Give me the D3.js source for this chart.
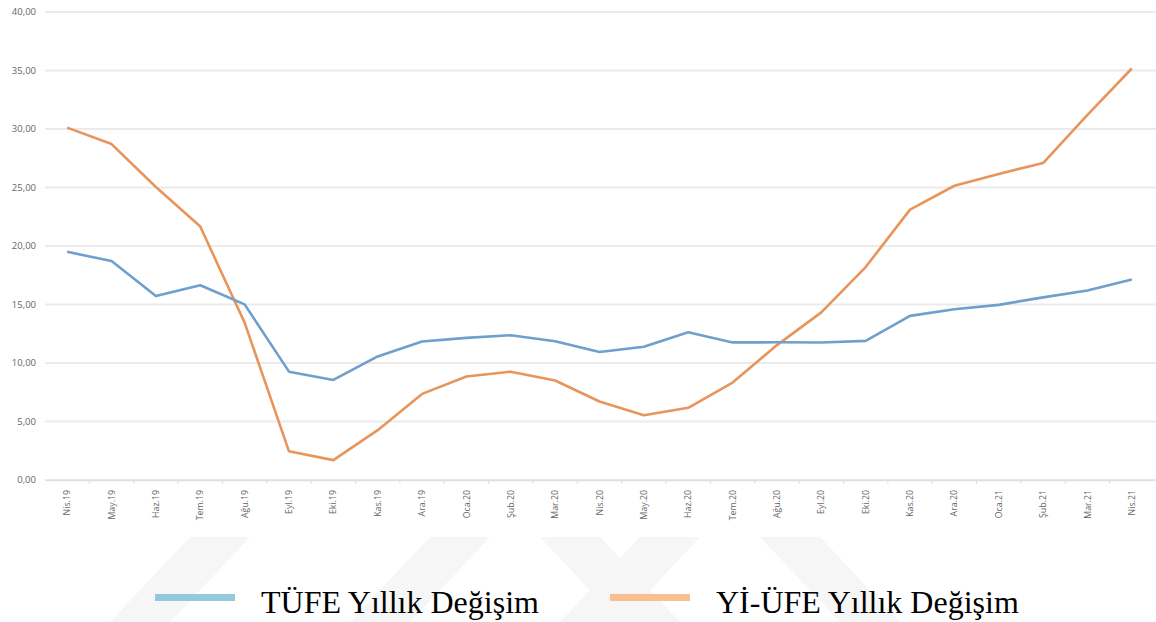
<!DOCTYPE html>
<html>
<head>
<meta charset="utf-8">
<script src="https://cdn.jsdelivr.net/npm/d3@7"></script>
<style>
  body { margin: 0; background: #fff; }
  svg { display: block; }
</style>
</head>
<body>
<svg id="chart"></svg>
<script>
// months on the x axis
const months = ["Nis.19", "May.19", "Haz.19", "Tem.19", "Ağu.19", "Eyl.19", "Eki.19", "Kas.19", "Ara.19",
  "Oca.20", "Şub.20", "Mar.20", "Nis.20", "May.20", "Haz.20", "Tem.20", "Ağu.20", "Eyl.20", "Eki.20",
  "Kas.20", "Ara.20", "Oca.21", "Şub.21", "Mar.21", "Nis.21"];

const tufe = [19.50, 18.71, 15.72, 16.65, 15.01, 9.26, 8.55, 10.56, 11.84, 12.15, 12.37, 11.86, 10.94,
  11.39, 12.62, 11.76, 11.77, 11.75, 11.89, 14.03, 14.60, 14.97, 15.61, 16.19, 17.14];

const yiufe = [30.12, 28.71, 25.04, 21.66, 13.45, 2.45, 1.70, 4.26, 7.36, 8.84, 9.26, 8.50, 6.71,
  5.53, 6.17, 8.33, 11.53, 14.33, 18.20, 23.11, 25.15, 26.16, 27.09, 31.20, 35.17];

const yTicks = [0, 5, 10, 15, 20, 25, 30, 35, 40];

const seriesNames = ["TÜFE Yıllık Değişim", "Yİ-ÜFE Yıllık Değişim"];

const width = 1156, height = 622;
const margin = { top: 12, right: 2, bottom: 142, left: 45 };

const svg = d3.select("#chart")
  .attr("width", width)
  .attr("height", height);

// faint watermark bands behind everything
const wm = svg.append("g").attr("fill", "#f6f6f6");
[[190, 250, 110, 170], [430, 490, 350, 410], [540, 600, 620, 680], [640, 700, 560, 620], [760, 820, 840, 900]]
  .forEach(b => {
    wm.append("path")
      .attr("d", `M${b[0]},537 L${b[1]},537 L${b[3]},622 L${b[2]},622 Z`);
  });

const xScale = d3.scaleBand()
  .domain(months)
  .range([margin.left, width - margin.right]);

const yScale = d3.scaleLinear()
  .domain([0, 40])
  .range([height - margin.bottom, margin.top]);

// gridlines
svg.append("g")
  .selectAll("line")
  .data(yTicks)
  .join("line")
  .attr("x1", margin.left)
  .attr("x2", width)
  .attr("y1", d => yScale(d))
  .attr("y2", d => yScale(d))
  .attr("stroke", "#ebebeb")
  .attr("stroke-width", 2);

// y labels
svg.append("g")
  .selectAll("text")
  .data(yTicks)
  .join("text")
  .attr("x", 36)
  .attr("y", d => yScale(d) + 3)
  .attr("text-anchor", "end")
  .attr("font-family", "'Open Sans', sans-serif")
  .attr("font-size", 9.5)
  .attr("fill", "#666")
  .text(d => d.toFixed(2).replace(".", ","));

// x axis
const xAxis = d3.axisBottom(xScale)
  .tickSizeOuter(0)
  .tickSizeInner(0)
  .tickPadding(0);

const xAxisG = svg.append("g")
  .attr("transform", `translate(0,${yScale(0)})`)
  .call(xAxis);

xAxisG.select(".domain").attr("stroke", "#e0e0e0").attr("stroke-width", 1.5);
xAxisG.selectAll(".tick text")
  .attr("transform", "rotate(-90)")
  .attr("x", -10)
  .attr("y", 0)
  .attr("dy", "0.35em")
  .style("text-anchor", "end")
  .attr("font-family", "'Open Sans', sans-serif")
  .attr("font-size", 8.8)
  .attr("fill", "#666");

// small ticks between categories
svg.append("g")
  .selectAll("line")
  .data(months.slice(1))
  .join("line")
  .attr("x1", d => xScale(d))
  .attr("x2", d => xScale(d))
  .attr("y1", yScale(0))
  .attr("y2", yScale(0) + 4)
  .attr("stroke", "#e0e0e0");

const line = d3.line()
  .x((d, i) => xScale(months[i]) + xScale.bandwidth() / 2)
  .y(d => yScale(d));

svg.append("path")
  .datum(yiufe)
  .attr("fill", "none")
  .attr("stroke", "#e8955c")
  .attr("stroke-width", 2.6)
  .attr("stroke-linejoin", "round")
  .attr("d", line);

svg.append("path")
  .datum(tufe)
  .attr("fill", "none")
  .attr("stroke", "#6f9fcd")
  .attr("stroke-width", 2.6)
  .attr("stroke-linejoin", "round")
  .attr("d", line);

// legend
const legendItems = [
  { name: seriesNames[0], color: "#92cadc", x: 155 },
  { name: seriesNames[1], color: "#f8c08f", x: 610 }
];
const legend = svg.append("g");
legendItems.forEach(d => {
  legend.append("rect")
    .attr("x", d.x)
    .attr("y", 594)
    .attr("width", 80)
    .attr("height", 7)
    .attr("fill", d.color);
  legend.append("text")
    .attr("x", d.x + 106)
    .attr("y", 613)
    .attr("font-family", "'Liberation Serif', 'Times New Roman', serif")
    .attr("font-size", 32)
    .attr("fill", "#000")
    .text(d.name);
});
</script>
</body>
</html>
